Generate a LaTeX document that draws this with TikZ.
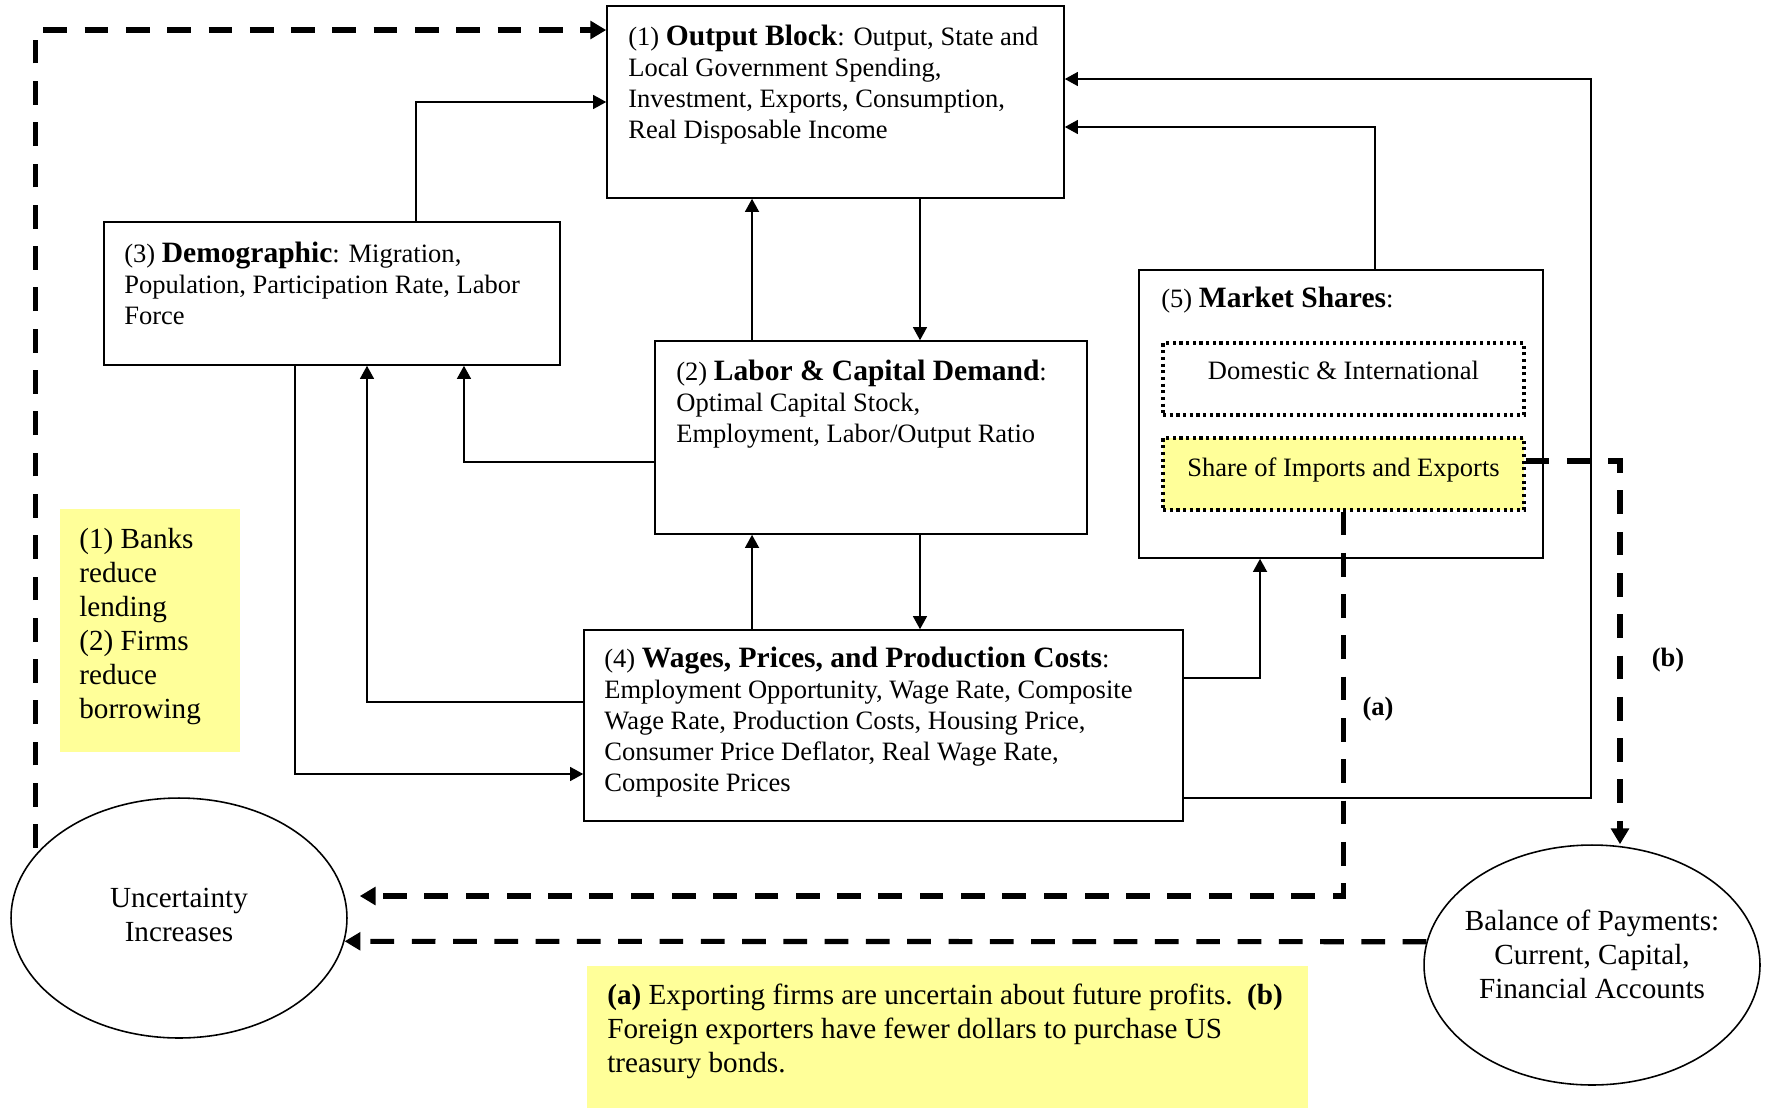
\documentclass[tikz,border=0pt]{standalone}
\usepackage{fontspec}
\setmainfont{Liberation Serif}
\usetikzlibrary{arrows.meta}
\usetikzlibrary{fit}
\usetikzlibrary{shapes.geometric}
\definecolor{noteyellow}{HTML}{FFFF99}
\newcommand{\hd}[1]{{\fontsize{16.8}{17.6}\selectfont\bfseries #1}}

\begin{document}
\begin{tikzpicture}[x=0.02cm, y=-0.02cm,
  blk/.style={draw, line width=0.9pt, inner sep=0pt},
  dotbox/.style={draw, dotted, line width=1.8pt, inner sep=0pt},
  txt/.style={anchor=north west, align=left, inner sep=0pt, font=\fontsize{15.1}{17.6}\selectfont},
  bigtxt/.style={align=left, inner sep=0pt, font=\fontsize{16.6}{19.3}\selectfont},
  arr/.style={line width=0.9pt, -{Triangle[length=7.5pt, width=8pt]}},
  darr/.style={line width=2.9pt, dash pattern=on 13.5pt off 10pt, -{Triangle[length=9pt, width=10pt]}}]

  \useasboundingbox (0,0) rectangle (1767,1109);

  % yellow notes
  \node[fill=noteyellow, inner sep=0pt, fit={(60,509) (240,752)}] (banks) {};
  \node[bigtxt, anchor=north west] (bankstxt) at (79,528) {(1) Banks\\reduce\\lending\\(2) Firms\\reduce\\borrowing};
  \node[fill=noteyellow, inner sep=0pt, fit={(587,966) (1308,1108)}] (note) {};
  \node[bigtxt, anchor=north west] (notetxt) at (607,984) {\textbf{(a)} Exporting firms are uncertain about future profits.\ \ \textbf{(b)}\\Foreign exporters have fewer dollars to purchase US\\treasury bonds.};

  % blocks
  \node[blk, fit={(607,6) (1064,198)}] (out) {};
  \node[txt] (outtxt) at (628,25) {(1) \hd{Output Block}: Output, State and\\Local Government Spending,\\Investment, Exports, Consumption,\\Real Disposable Income};

  \node[blk, fit={(104,222) (560,365)}] (demo) {};
  \node[txt] (demotxt) at (124,242) {(3) \hd{Demographic}: Migration,\\Population, Participation Rate, Labor\\Force};

  \node[blk, fit={(655,341) (1087,534)}] (labor) {};
  \node[txt] (labortxt) at (676,360) {(2) \hd{Labor \& Capital Demand}:\\Optimal Capital Stock,\\Employment, Labor/Output Ratio};

  \node[blk, fit={(584,630) (1183,821)}] (wages) {};
  \node[txt] (wagestxt) at (604,647) {(4) \hd{Wages, Prices, and Production Costs}:\\Employment Opportunity, Wage Rate, Composite\\Wage Rate, Production Costs, Housing Price,\\Consumer Price Deflator, Real Wage Rate,\\Composite Prices};

  \node[blk, fit={(1139,270) (1543,558)}] (mkt) {};
  \node[txt] (mkttxt) at (1161,287) {(5) \hd{Market Shares}:};
  \node[dotbox, fit={(1163,343) (1524,415)}] (dom) {};
  \node[txt, anchor=center] (domtxt) at ([yshift=0.18cm]dom.center) {Domestic \& International};
  \node[dotbox, fill=noteyellow, fit={(1163,438) (1524,510)}] (share) {};
  \node[txt, anchor=center] (sharetxt) at ([yshift=0.09cm]share.center) {Share of Imports and Exports};

  % ellipses
  \node[draw, line width=0.9pt, ellipse, minimum width=6.72cm, minimum height=4.8cm, inner sep=0pt] (unc) at (179,918) {};
  \node[bigtxt, align=center] (unctxt) at ([yshift=0.06cm]unc.center) {Uncertainty\\Increases};
  \node[draw, line width=0.9pt, ellipse, minimum width=6.72cm, minimum height=4.8cm, inner sep=0pt] (bop) at (1592,965) {};
  \node[bigtxt, align=center] (boptxt) at ([yshift=0.22cm]bop.center) {Balance of Payments:\\Current, Capital,\\Financial Accounts};

  \coordinate (rbend) at (1591,79);

  % solid links
  \draw[arr] ([xshift=1.68cm]demo.north) |- (out.west);
  \draw[arr] ([xshift=1.69cm]out.south) -- ([xshift=0.98cm]labor.north);
  \draw[arr] ([xshift=-2.38cm]labor.north) -- ([xshift=-1.67cm]out.south);
  \draw[arr] ([yshift=-0.49cm]labor.west) -| ([xshift=2.64cm]demo.south);
  \draw[arr] ([yshift=0.47cm]wages.west) -| ([xshift=0.7cm]demo.south);
  \draw[arr] ([xshift=-0.74cm]demo.south) |- ([yshift=-0.97cm]wages.west);
  \draw[arr] ([xshift=-2.63cm]wages.north) -- ([xshift=-2.38cm]labor.south);
  \draw[arr] ([xshift=0.98cm]labor.south) -- ([xshift=0.73cm]wages.north);
  \draw[arr] ([yshift=0.95cm]wages.east) -| ([xshift=-1.62cm]mkt.south);
  \draw[arr] ([yshift=-1.45cm]wages.east) -| (rbend) -- ([yshift=0.46cm]out.east);
  \draw[arr] ([xshift=0.68cm]mkt.north) |- ([yshift=-0.5cm]out.east);

  % dashed links
  \draw[darr] ([xshift=-0.12cm]unc.153) |- ([yshift=1.44cm]out.west);
  \draw[darr] (share.south) |- ([xshift=0.24cm,yshift=0.44cm]unc.east);
  \draw[darr] ([yshift=0.26cm]share.east) -| ([xshift=0.56cm]bop.north);
  \draw[darr] (bop.172) -- (unc.352);

  \node[font=\fontsize{15.1}{17.6}\selectfont\bfseries] (lbla) at (1378,709) {(a)};
  \node[font=\fontsize{15.1}{17.6}\selectfont\bfseries] (lblb) at (1668,660) {(b)};
\end{tikzpicture}
\end{document}
